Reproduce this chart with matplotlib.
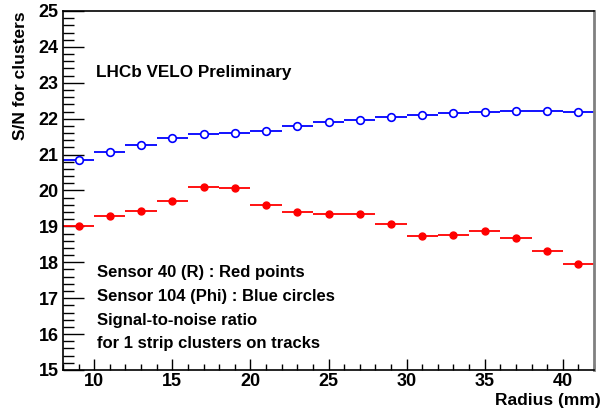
import matplotlib.pyplot as plt
from matplotlib.ticker import MultipleLocator

plt.rcParams['font.family'] = ['Liberation Sans', 'DejaVu Sans']
plt.rcParams['font.weight'] = 'bold'

# Bin centres (mm), bin width 2
radius = [9, 11, 13, 15, 17, 19, 21, 23, 25, 27, 29, 31, 33, 35, 37, 39, 41]

# Sensor 40 (R) - red points
sn_r = [19.02, 19.29, 19.43, 19.71, 20.09, 20.08, 19.61, 19.41, 19.35, 19.34,
        19.07, 18.72, 18.77, 18.87, 18.69, 18.32, 17.96]

# Sensor 104 (Phi) - blue circles
sn_phi = [20.84, 21.06, 21.27, 21.47, 21.57, 21.61, 21.67, 21.81, 21.90, 21.97,
          22.04, 22.10, 22.16, 22.20, 22.22, 22.21, 22.18]

bin_half = [1] * len(radius)

fig = plt.figure(figsize=(6.03, 4.12), dpi=100)
ax = fig.add_axes([63 / 603, 42 / 412, 531 / 603, 359 / 412])

ax.errorbar(radius, sn_phi, xerr=bin_half, fmt='o', color='blue', mfc='white',
            mec='blue', ms=5.5, mew=1.2, elinewidth=1.3, capsize=0)
ax.errorbar(radius, sn_r, xerr=bin_half, fmt='o', color='red', mfc='red',
            mec='red', ms=5, elinewidth=1.3, capsize=0)

ax.set_xlim(8, 42)
ax.set_ylim(15, 25)

ax.xaxis.set_major_locator(MultipleLocator(5))
ax.xaxis.set_minor_locator(MultipleLocator(1))
ax.yaxis.set_major_locator(MultipleLocator(1))
ax.yaxis.set_minor_locator(MultipleLocator(0.2))

ax.tick_params(axis='both', which='both', direction='in', top=False, right=False,
               labelsize=13, width=1)
ax.tick_params(axis='y', which='major', length=15, pad=3)
ax.tick_params(axis='y', which='minor', length=8)
ax.tick_params(axis='x', which='major', length=8, pad=2)
ax.tick_params(axis='x', which='minor', length=4)
for lbl in ax.get_xticklabels() + ax.get_yticklabels():
    lbl.set_fontweight('bold')

for s in ax.spines.values():
    s.set_linewidth(1.2)
ax.spines['right'].set_color('#808080')
ax.spines['right'].set_linewidth(2)

fig.text(21 / 603, 1 - 11 / 412, 'S/N for clusters', rotation=90, ha='center',
         va='top', fontsize=12.5, fontweight='bold')
fig.text(601 / 603, 1 - 400 / 412, 'Radius (mm)', ha='right', va='center',
         fontsize=12.5, fontweight='bold')

fig.text(96 / 603, 1 - 73 / 412, 'LHCb VELO Preliminary', ha='left', va='center',
         fontsize=12.3, fontweight='bold')
notes = ['Sensor 40 (R) : Red points', 'Sensor 104 (Phi) : Blue circles',
         'Signal-to-noise ratio', 'for 1 strip clusters on tracks']
for i, t in enumerate(notes):
    fig.text(97 / 603, 1 - (273 + i * 23.5) / 412, t, ha='left', va='center',
             fontsize=12, fontweight='bold')

fig.savefig('out.png', dpi=100)
